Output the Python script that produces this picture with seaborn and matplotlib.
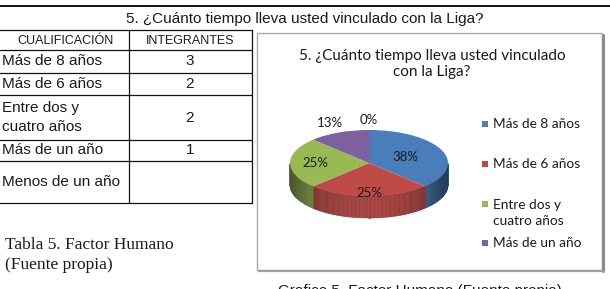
import numpy as np
import matplotlib
matplotlib.use('Agg')
import matplotlib.pyplot as plt
from matplotlib.patches import Rectangle, Polygon
import seaborn as sns

# datos de la tabla / grafico
categorias = ['Más de 8 años', 'Más de 6 años', 'Entre dos y\ncuatro años', 'Más de un año', 'Menos de un año']
integrantes = [3, 2, 2, 1, 0]
tabla_valores = ['3', '2', '2', '1', '']
colores = ['#4a7ebb', '#be4b48', '#98b954', '#7d60a0', '#46aac5']
titulo = '5. ¿Cuánto tiempo lleva usted vinculado con la Liga?'

sns.set_theme(style='white')
plt.rcParams['font.family'] = ['Liberation Sans', 'DejaVu Sans']
chart_font = ['Lato', 'DejaVu Sans']

W, H = 610, 289
fig = plt.figure(figsize=(6.1, 2.89), dpi=100)
ax = fig.add_axes([0, 0, 1, 1])
ax.set_xlim(0, W)
ax.set_ylim(H, 0)
ax.axis('off')

# ---- tabla ----
ax.plot([0, W], [6, 6], color='#111111', lw=1.4)
ax.text(305, 18.5, titulo, ha='center', va='center', fontsize=11, color='#1a1a1a')

filas_y = [30, 50, 72.5, 95, 140, 161, 203]
for y in filas_y:
    ax.plot([0, 252], [y, y], color='#111111', lw=0.9)
for x in [129, 251.5]:
    ax.plot([x, x], [30, 203], color='#111111', lw=0.9)

ax.text(65, 40.5, 'CUALIFICACIÓN', ha='center', va='center', fontsize=9, color='#1a1a1a')
ax.text(190, 40.5, 'INTEGRANTES', ha='center', va='center', fontsize=9, color='#1a1a1a')
for i, (cat, val) in enumerate(zip(categorias, tabla_valores)):
    yc = (filas_y[i + 1] + filas_y[i + 2]) / 2
    ax.text(2, yc, cat, ha='left', va='center', fontsize=11, color='#1a1a1a', linespacing=1.45)
    ax.text(190, yc, val, ha='center', va='center', fontsize=11, color='#1a1a1a')

ax.text(5, 245, 'Tabla 5. Factor Humano', ha='left', va='center', fontsize=12.5,
        family=['Liberation Serif'], color='#1a1a1a')
ax.text(5, 265, '(Fuente propia)', ha='left', va='center', fontsize=12.5,
        family=['Liberation Serif'], color='#1a1a1a')
ax.text(278, 284, 'Grafico 5. Factor Humano (Fuente propia)', ha='left', va='top',
        fontsize=11, color='#1a1a1a')

# ---- marco del grafico ----
ax.add_patch(Rectangle((257, 33), 345, 237, facecolor='white', edgecolor='#a8a8a8', lw=1.0))
ax.plot([603, 603], [35, 271], color='#8c8c8c', lw=2.2)
ax.plot([259, 603], [271, 271], color='#a0a0a0', lw=1.6)

ax.text(432, 64, '5. ¿Cuánto tiempo lleva usted vinculado\ncon la Liga?', ha='center', va='center',
        fontsize=11, family=chart_font, color='#1a1a1a', linespacing=1.25)

# ---- pastel 3D ----
cx, cy, rx, ry, depth = 369, 163, 79, 33, 22
x0, x1, y0, y1 = 258, 470, 100, 240
axp = fig.add_axes([x0 / W, 1 - y1 / H, (x1 - x0) / W, (y1 - y0) / H])
axp.patch.set_alpha(0)

total = sum(integrantes)
cum = np.concatenate([[0], np.cumsum(integrantes)]) / total
d = depth / ry

for i, col in enumerate(colores):
    a_start = 90 - 360 * cum[i]
    a_end = 90 - 360 * cum[i + 1]
    if a_start == a_end:
        continue
    angs = np.linspace(a_end, a_start, int(abs(a_start - a_end)) + 2)
    base = np.array(matplotlib.colors.to_rgb(col))
    for a, b in zip(angs[:-1], angs[1:]):
        m = np.radians((a + b) / 2)
        if np.sin(m) >= 0:
            continue
        f = 0.86 - 0.38 * np.cos(m) ** 2
        c = np.clip(base * f, 0, 1)
        ra, rb = np.radians(a), np.radians(b)
        pts = [(np.cos(ra), np.sin(ra)), (np.cos(rb), np.sin(rb)),
               (np.cos(rb), np.sin(rb) - d), (np.cos(ra), np.sin(ra) - d)]
        axp.add_patch(Polygon(pts, closed=True, facecolor=c, edgecolor=c, lw=0.4, zorder=0.5))

axp.pie(integrantes, colors=colores, startangle=90, counterclock=False, radius=1,
        wedgeprops=dict(linewidth=0))
axp.set_aspect('auto')
axp.set_xlim((x0 - cx) / rx, (x1 - cx) / rx)
axp.set_ylim((cy - y1) / ry, (cy - y0) / ry)
axp.axis('off')

dist_etiquetas = [0.5, 0.9, 0.68, 1.3, 1.3]
for i, v in enumerate(integrantes):
    mid = np.radians(90 - 360 * (cum[i] + cum[i + 1]) / 2)
    pct = int(v / total * 100 + 0.5)
    r = dist_etiquetas[i]
    axp.text(r * np.cos(mid), r * np.sin(mid), f'{pct}%', ha='center', va='center',
             fontsize=9.5, family=chart_font, color='#1a1a1a', zorder=5)

# ---- leyenda ----
ley_y = [124, 164, 204, 243]
for lab, col, y in zip(categorias[:4], colores[:4], ley_y):
    ax.add_patch(Rectangle((482, y - 3), 6, 6, facecolor=col, edgecolor='none'))
    n = lab.count('\n')
    ax.text(493, y + n * 9, lab, ha='left', va='center', fontsize=9.8, family=chart_font,
            color='#1a1a1a', linespacing=1.35)

fig.savefig('out.png', dpi=100)
